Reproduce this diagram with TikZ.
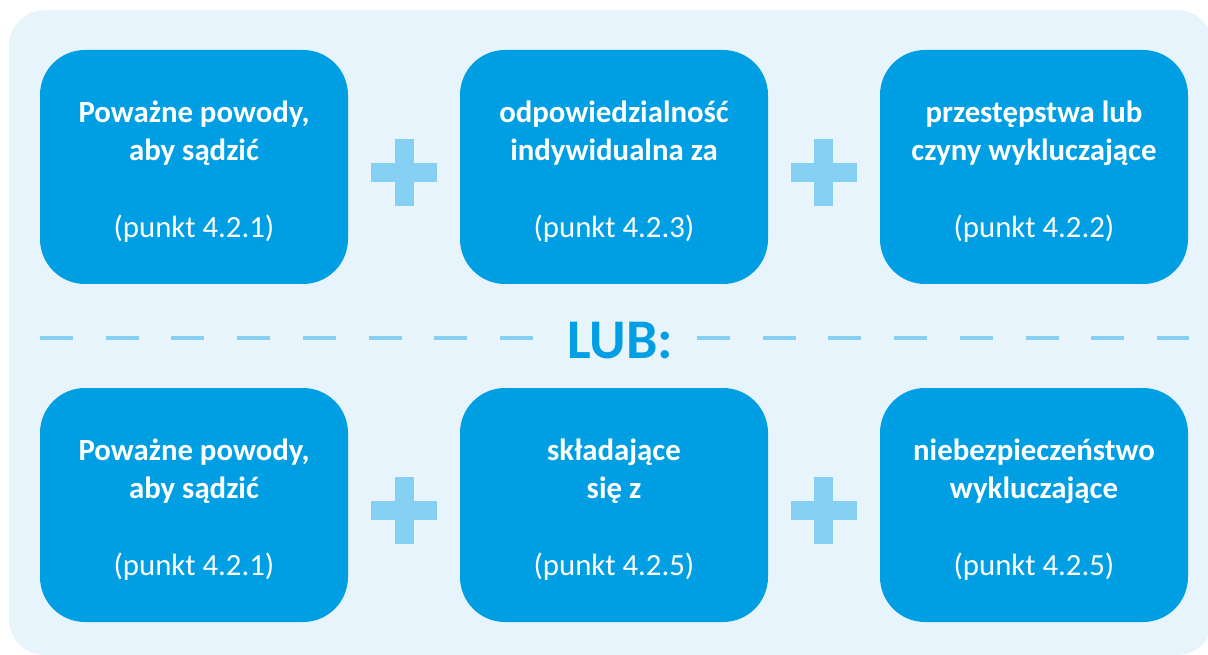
\documentclass[tikz,border=0pt]{standalone}
\usepackage{fontspec}
\setmainfont{Carlito}
\usetikzlibrary{calc}
\definecolor{panelc}{HTML}{E8F4FC}
\definecolor{boxc}{HTML}{009FE3}
\definecolor{plusc}{HTML}{85CFF3}
\tikzset{
  card/.style={fill=boxc, rounded corners=45pt, minimum width=308pt, minimum height=234pt, inner sep=0pt},
  cardtext/.style={text=white, align=center, inner sep=0pt, font=\fontsize{30.8}{38.3}\selectfont},
  pics/plussign/.style={code={
    \fill[plusc] (-33,-9.5) rectangle (33,9.5);
    \fill[plusc] (-9.5,-33.5) rectangle (9.5,33.5);
  }},
  sepline/.style={plusc, line width=3.3pt, dash pattern=on 33pt off 32.7pt},
  lubtext/.style={fill=panelc, text=boxc, inner xsep=10pt, inner ysep=2pt, anchor=base, font=\fontsize{56}{60}\selectfont\bfseries}
}
\newcommand{\cardlabel}[3]{\textbf{#1}\\\textbf{#2}\\[38.3pt]#3}
\begin{document}
\begin{tikzpicture}[x=1pt,y=-1pt]
\useasboundingbox (0,0) rectangle (1208,655);
\begin{scope}
\clip (0,0) rectangle (1208,655);
\fill[panelc, rounded corners=36pt] (9,10) rectangle (1213,655);
\end{scope}
% row 1
\node[card] (a1) at (194,167) {};
\node[card] (a2) at (614,167) {};
\node[card] (a3) at (1034,167) {};
\node[cardtext] (ta1) at ([yshift=-4.6pt]a1.center) {\cardlabel{Poważne powody,}{aby sądzić}{(punkt 4.2.1)}};
\node[cardtext] (ta2) at ([yshift=-4.6pt]a2.center) {\cardlabel{odpowiedzialność}{indywidualna za}{(punkt 4.2.3)}};
\node[cardtext] (ta3) at ([yshift=-4.6pt]a3.center) {\cardlabel{przestępstwa lub}{czyny wykluczające}{(punkt 4.2.2)}};
\pic at (404,172.3) {plussign};
\pic at (823.8,172.3) {plussign};
% separator
\coordinate (dl) at (40,338);
\coordinate (dr) at (1189,338);
\draw[sepline] (dl) -- (dr);
\node[lubtext] (lub) at (620.5,358) {LUB:};
% row 2
\node[card] (b1) at (194,505) {};
\node[card] (b2) at (614,505) {};
\node[card] (b3) at (1034,505) {};
\node[cardtext] (tb1) at ([yshift=-4.6pt]b1.center) {\cardlabel{Poważne powody,}{aby sądzić}{(punkt 4.2.1)}};
\node[cardtext] (tb2) at ([yshift=-4.6pt]b2.center) {\cardlabel{składające}{się z}{(punkt 4.2.5)}};
\node[cardtext] (tb3) at ([yshift=-4.6pt]b3.center) {\cardlabel{niebezpieczeństwo}{wykluczające}{(punkt 4.2.5)}};
\pic at (404,510) {plussign};
\pic at (823.8,510) {plussign};
\end{tikzpicture}
\end{document}
